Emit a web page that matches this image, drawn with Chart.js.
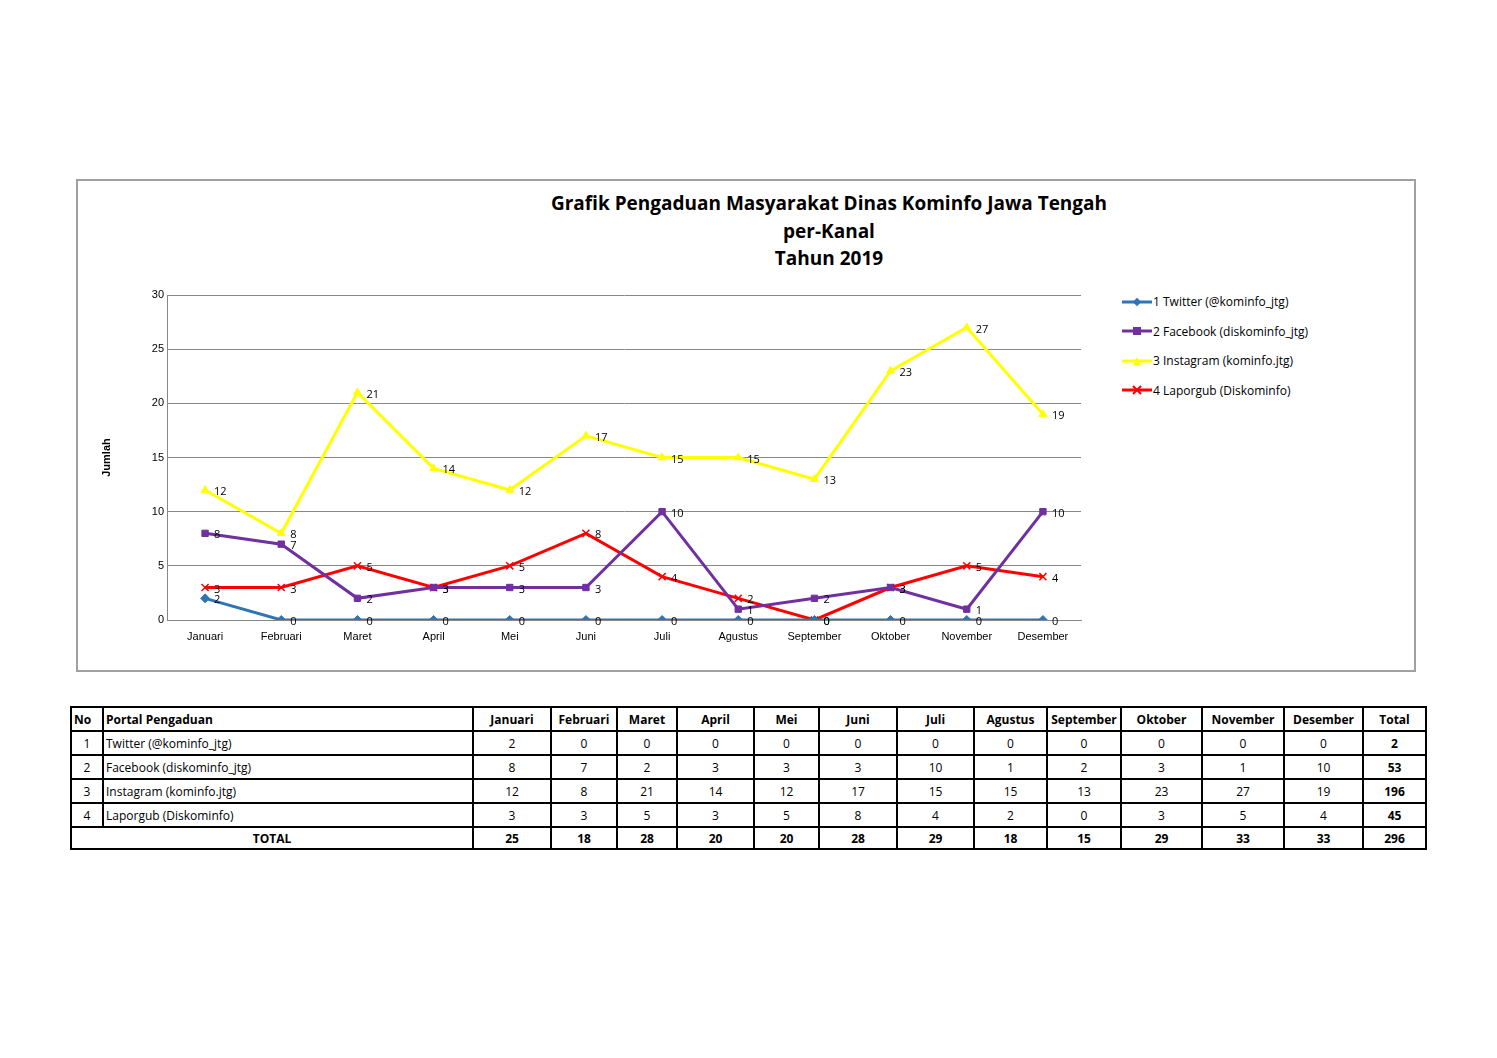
<!DOCTYPE html>
<html><head><meta charset="utf-8">
<script src="https://cdn.jsdelivr.net/npm/chart.js@4"></script>
<style>
body{margin:0;background:#fff;font-family:"Open Sans",sans-serif;width:1497px;height:1058px;position:relative}
#box{position:absolute;left:76px;top:179px;width:1336px;height:489px;border:2px solid #a0a0a0}
#title{position:absolute;left:429px;width:800px;top:190px;text-align:center;font-weight:bold;font-size:19px;line-height:27.5px}
#wrap{position:absolute;left:100px;top:280px;width:1000px;height:380px}
#legend{position:absolute;left:1122px;top:287px;font-size:12px}
#legend div{height:29.5px;display:flex;align-items:center}
#legend svg{margin-right:1px}
table{position:absolute;left:70px;top:706px;border-collapse:collapse;font-size:12px;font-weight:bold;width:1356px;table-layout:fixed}
td{border:2px solid #000;height:20px;padding:0 2px;text-align:center;white-space:nowrap;overflow:hidden}
td.l{text-align:left}
</style></head><body>
<div id="box"></div>
<div id="title">Grafik Pengaduan Masyarakat Dinas Kominfo Jawa Tengah<br>per-Kanal<br>Tahun 2019</div>
<div id="wrap"><canvas id="c"></canvas></div>
<div id="legend"></div>
<table id="t"></table>
<script>
const months = ["Januari","Februari","Maret","April","Mei","Juni","Juli","Agustus","September","Oktober","November","Desember"];
const channels = ["Twitter (@kominfo_jtg)","Facebook (diskominfo_jtg)","Instagram (kominfo.jtg)","Laporgub (Diskominfo)"];
const twitter = [2,0,0,0,0,0,0,0,0,0,0,0];
const facebook = [8,7,2,3,3,3,10,1,2,3,1,10];
const instagram = [12,8,21,14,12,17,15,15,13,23,27,19];
const laporgub = [3,3,5,3,5,8,4,2,0,3,5,4];
const colors = ["#2E75B6","#7030A0","#FFFF00","#FF0000"];
const styles = ["rectRot","rect","triangle","crossRot"];
const series = [twitter,facebook,instagram,laporgub];

const labelPlugin = {
  id:"vals",
  afterDatasetsDraw(chart){
    const ctx = chart.ctx;
    ctx.save();ctx.font="11px 'Open Sans'";ctx.fillStyle="#000";ctx.textBaseline="middle";
    chart.data.datasets.forEach((ds,i)=>{
      chart.getDatasetMeta(i).data.forEach((p,j)=>ctx.fillText(ds.data[j],p.x+9,p.y+2));
    });
    ctx.restore();
  }
};

new Chart(document.getElementById("c"),{
  type:"line",
  data:{labels:months,datasets:series.map((d,i)=>({
    label:(i+1)+" "+channels[i],data:d,borderColor:colors[i],backgroundColor:colors[i],
    borderWidth:3,pointStyle:styles[i],pointRadius:i==3?5:4.5,pointBorderWidth:i==3?1.5:1,
    pointBorderColor:colors[i],tension:0}))},
  options:{responsive:true,maintainAspectRatio:false,animation:false,
    layout:{padding:{top:15,right:19,left:0,bottom:0}},
    plugins:{legend:{display:false},tooltip:{enabled:false}},
    scales:{
      y:{min:0,max:30,ticks:{stepSize:5,font:{size:11},color:"#000"},
         grid:{color:"#888",drawTicks:false},border:{color:"#888"},
         title:{display:true,text:"Jumlah",font:{size:11,weight:"bold"},color:"#000",padding:{top:0,bottom:10}},
         afterFit(s){s.width=67}},
      x:{offset:true,grid:{display:false},border:{color:"#888"},
         ticks:{font:{size:11},color:"#000",maxRotation:0,autoSkip:false,padding:2},
         afterFit(s){s.height=40}}
    }},
  plugins:[labelPlugin]
});

const lg=document.getElementById("legend");
channels.forEach((c,i)=>{
  const shape = i==0?'<rect x="12" y="2" width="6" height="6" transform="rotate(45 15 5)"/>':
    i==1?'<rect x="11" y="1" width="8" height="8"/>':
    i==2?'<polygon points="15,1 19,9 11,9"/>':'<path d="M11 1L19 9M19 1L11 9" stroke="'+colors[i]+'" stroke-width="2"/>';
  lg.innerHTML+='<div><svg width="30" height="10"><line x1="0" y1="5" x2="30" y2="5" stroke="'+colors[i]+'" stroke-width="3"/><g fill="'+colors[i]+'">'+shape+'</g></svg>'+(i+1)+' '+c+'</div>';
});

const widths=[32,370,78,66,60,77,65,78,77,73,74,81,82,79,63];
const t=document.getElementById("t");
let h='<colgroup>'+widths.map(w=>'<col style="width:'+w+'px">').join('')+'</colgroup>';
h+='<tr>'+["No","Portal Pengaduan",...months,"Total"].map((x,i)=>'<td class="'+(i<2?'l':'')+'">'+x+'</td>').join('')+'</tr>';
const sum=a=>a.reduce((p,q)=>p+q,0);
series.forEach((s,i)=>{
  h+='<tr style="font-weight:normal"><td>'+(i+1)+'</td><td class="l">'+channels[i]+'</td>'+s.map(v=>'<td>'+v+'</td>').join('')+'<td style="font-weight:bold">'+sum(s)+'</td></tr>';
});
const tot=months.map((m,j)=>sum(series.map(s=>s[j])));
h+='<tr><td colspan="2">TOTAL</td>'+tot.map(v=>'<td>'+v+'</td>').join('')+'<td>'+sum(tot)+'</td></tr>';
t.innerHTML=h;
document.querySelectorAll("tr").forEach((r,i)=>r.style.height=(i==5?22:24)+"px");
</script>
</body></html>
